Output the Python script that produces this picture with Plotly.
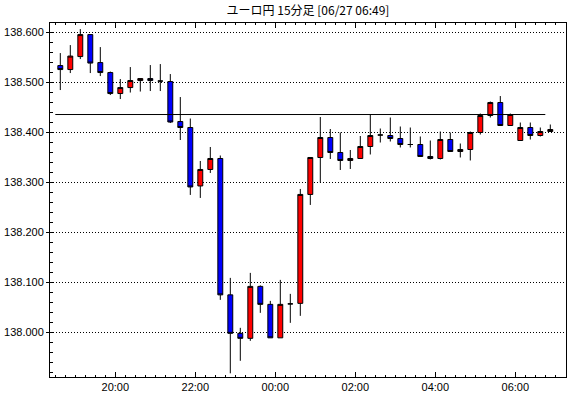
import plotly.graph_objects as go
import pandas as pd

# ---- data (15-minute candles, EUR/JPY) ----
start_time = "2024-06-26 18:30"
open_ = [138.534, 138.526, 138.552, 138.596, 138.540, 138.520, 138.478, 138.490, 138.504, 138.508,
         138.503, 138.502, 138.422, 138.410, 138.293, 138.326, 138.348, 138.075, 137.998, 137.988,
         138.092, 138.056, 137.989, 138.057, 138.058, 138.276, 138.350, 138.390, 138.360, 138.344,
         138.348, 138.372, 138.395, 138.394, 138.388, 138.376, 138.376, 138.352, 138.348, 138.386,
         138.362, 138.366, 138.400, 138.434, 138.460, 138.414, 138.384, 138.410, 138.394, 138.402]
high = [138.559, 138.575, 138.607, 138.596, 138.571, 138.522, 138.507, 138.531, 138.508, 138.535,
        138.537, 138.517, 138.471, 138.428, 138.343, 138.371, 138.354, 138.109, 138.009, 138.119,
        138.094, 138.063, 138.105, 138.077, 138.287, 138.350, 138.431, 138.407, 138.400, 138.365,
        138.393, 138.436, 138.408, 138.430, 138.412, 138.410, 138.392, 138.384, 138.402, 138.400,
        138.378, 138.402, 138.438, 138.462, 138.473, 138.438, 138.420, 138.420, 138.410, 138.416]
low = [138.485, 138.519, 138.547, 138.519, 138.513, 138.475, 138.467, 138.480, 138.482, 138.483,
       138.483, 138.419, 138.385, 138.275, 138.269, 138.319, 138.065, 137.918, 137.943, 137.983,
       138.039, 137.989, 137.989, 138.019, 138.033, 138.255, 138.300, 138.347, 138.325, 138.327,
       138.348, 138.356, 138.380, 138.382, 138.370, 138.370, 138.352, 138.346, 138.346, 138.362,
       138.350, 138.344, 138.396, 138.430, 138.414, 138.414, 138.384, 138.386, 138.392, 138.402]
close = [138.526, 138.553, 138.596, 138.539, 138.520, 138.478, 138.490, 138.504, 138.508, 138.504,
         138.503, 138.421, 138.410, 138.291, 138.326, 138.348, 138.075, 137.998, 137.988, 138.092,
         138.056, 137.989, 138.056, 138.057, 138.276, 138.350, 138.390, 138.360, 138.344, 138.348,
         138.372, 138.394, 138.395, 138.388, 138.376, 138.376, 138.352, 138.348, 138.386, 138.362,
         138.366, 138.400, 138.434, 138.460, 138.414, 138.436, 138.410, 138.394, 138.402, 138.406]
ref_level = 138.436
tick_labels = ["20:00", "22:00", "00:00", "02:00", "04:00", "06:00"]
y_ticks = [138.0, 138.1, 138.2, 138.3, 138.4, 138.5, 138.6]
title_text = "ユーロ円 15分足 [06/27 06:49]"

times = pd.date_range(start_time, periods=len(open_), freq="15min").strftime("%H:%M").tolist()
idx = list(range(len(open_)))
tick_pos = [times.index(t) - 0.5 for t in tick_labels]

fig = go.Figure()
fig.add_trace(go.Candlestick(
    x=idx, open=open_, high=high, low=low, close=close,
    increasing=dict(fillcolor="#ff0000", line=dict(color="#000000", width=1)),
    decreasing=dict(fillcolor="#0000ff", line=dict(color="#000000", width=1)),
    whiskerwidth=0, showlegend=False, hoverinfo="skip",
))
fig.add_trace(go.Scatter(
    x=[idx[0] - 0.5, idx[-2] + 0.5], y=[ref_level, ref_level], mode="lines",
    line=dict(color="#000000", width=1), showlegend=False, hoverinfo="skip",
))

fig.update_layout(
    width=570, height=398,
    margin=dict(l=50, r=4, t=23, b=21),
    paper_bgcolor="white", plot_bgcolor="white",
    boxgap=0.3,
    title=dict(text=title_text, x=(50 + 566) / 2 / 570, xanchor="center", xref="container",
               y=1 - 11 / 398, yanchor="middle", yref="container",
               font=dict(family="Noto Sans CJK JP", size=12, color="#000000")),
    font=dict(family="Liberation Sans", size=11, color="#000000"),
)
fig.update_xaxes(
    range=[-1.03, 50.57], rangeslider=dict(visible=False),
    tickmode="array", tickvals=tick_pos, ticktext=tick_labels,
    ticks="inside", ticklen=5, tickcolor="#000000", tickwidth=1,
    showgrid=False, zeroline=False,
    showline=True, linecolor="#000000", linewidth=1, mirror="allticks",
    minor=dict(tick0=0.5, dtick=1, ticks="inside", ticklen=2, tickcolor="#000000", showgrid=False),
    tickfont=dict(family="Liberation Sans", size=11, color="#000000"),
)
fig.update_yaxes(
    range=[137.9106, 138.6192],
    tickmode="array", tickvals=y_ticks, tickformat=".3f",
    ticks="outside", ticklen=3, tickcolor="#000000", tickwidth=1,
    showgrid=True, gridcolor="#000000", gridwidth=1, griddash="1px,2px",
    zeroline=False,
    showline=True, linecolor="#000000", linewidth=1, mirror=True,
    minor=dict(tick0=138.0, dtick=0.02, ticks="inside", ticklen=3, tickcolor="#000000", showgrid=False),
    tickfont=dict(family="Liberation Sans", size=11, color="#000000"),
)

fig.write_html("out.html", config={"displayModeBar": False},
               post_script="document.body.style.margin='0';document.body.style.overflow='hidden';")
